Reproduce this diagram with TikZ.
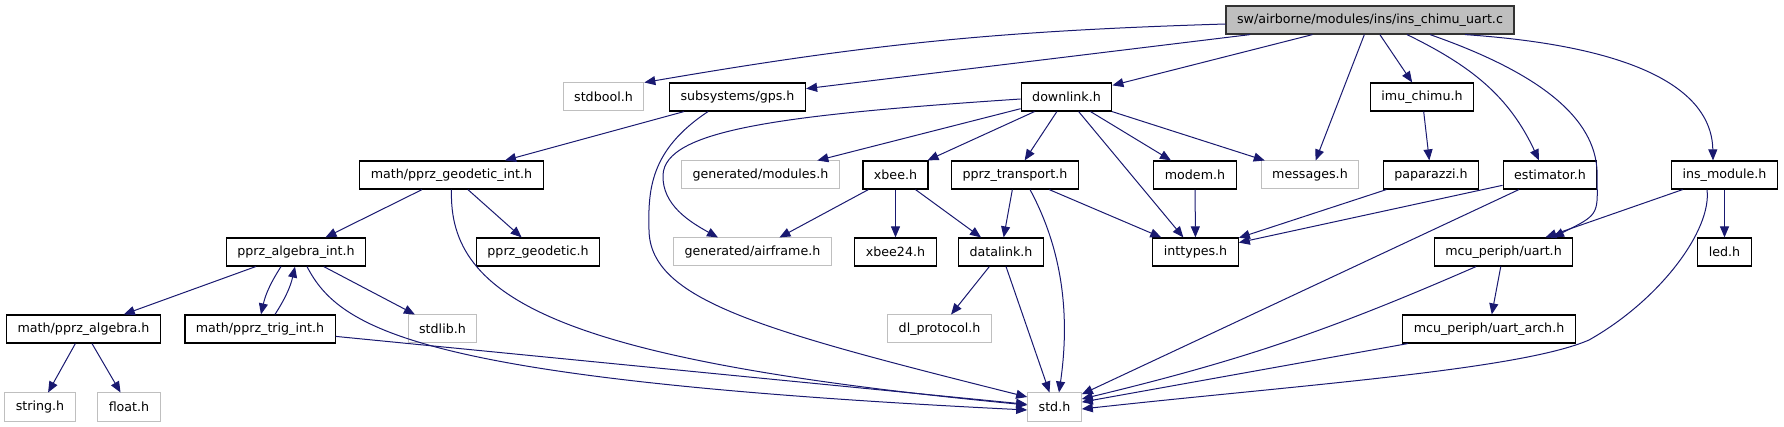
\documentclass[tikz,border=0pt]{standalone}
\usepackage{fontspec}
\setmainfont{DejaVu Sans}
\usetikzlibrary{arrows.meta}
\definecolor{edgeblue}{RGB}{25,25,112}
\definecolor{boxgray}{RGB}{191,191,191}
\begin{document}
\begin{tikzpicture}[x=0.5pt,y=-0.5pt,every node/.style={font=\fontsize{6.33}{7.6}\selectfont},
  hdr/.style={draw=black,line width=0.6pt,minimum height=14pt,inner xsep=5.5pt,inner ysep=0pt},
  sys/.style={hdr,draw=boxgray,line width=0.5pt},
  dep/.style={draw=edgeblue,line width=0.5pt,-{Triangle[length=5.5pt,width=4.5pt]}}]
\useasboundingbox (0,0) rectangle (1784,427);
% include graph of ins_chimu_uart.c
\node[hdr,fill=boxgray,draw=black!80] (root) at (1370,20) {sw/airborne/modules/ins/ins\_chimu\_uart.c};
\foreach \n/\x/\y/\t in {gps/737.5/97/{subsystems/gps.h},downlink/1066.5/97/{downlink.h},
  imuchimu/1422/97/{imu\_chimu.h},geodint/451.5/175/{math/pprz\_geodetic\_int.h},
  xbee/895.5/175/{xbee.h},transport/1015/175/{pprz\_transport.h},modem/1195/175/{modem.h},
  paparazzi/1431/175/{paparazzi.h},estimator/1550/175/{estimator.h},insmodule/1724.5/175/{ins\_module.h},
  algint/296/252/{pprz\_algebra\_int.h},geodetic/538/252/{pprz\_geodetic.h},xbeetwo/895.5/252/{xbee24.h},
  datalink/1001/252/{datalink.h},inttypes/1195.5/252/{inttypes.h},uart/1503.5/252/{mcu\_periph/uart.h},
  led/1724.5/252/{led.h},algebra/83.5/329/{math/pprz\_algebra.h},trigint/260/329/{math/pprz\_trig\_int.h},
  uartarch/1489/329/{mcu\_periph/uart\_arch.h}}
  \node[hdr] (\n) at (\x,\y) {\t};
% system / generated headers
\foreach \n/\x/\y/\t in {stdbool/603.5/97/{stdbool.h},genmodules/760.5/175/{generated/modules.h},
  messages/1310/175/{messages.h},genairframe/752.5/252/{generated/airframe.h},stdlib/442.5/329/{stdlib.h},
  dlprotocol/939.5/329/{dl\_protocol.h},strh/40/407/{string.h},floath/129/407/{float.h},std/1054.5/407/{std.h}}
  \node[sys] (\n) at (\x,\y) {\t};
\foreach \a/\b in {root/gps,root/downlink,root/messages,root/imuchimu,gps/geodint,downlink/genmodules,
  downlink/xbee,downlink/transport,downlink/inttypes,downlink/modem,downlink/messages,geodint/algint,
  geodint/geodetic,algint/algebra,algint/stdlib,algebra/strh,algebra/floath,xbee/genairframe,xbee/xbeetwo,
  xbee/datalink,transport/datalink,transport/inttypes,modem/inttypes,imuchimu/paparazzi,paparazzi/inttypes,
  estimator/inttypes,estimator/std,insmodule/uart,insmodule/led,uart/uartarch,uartarch/std,
  datalink/dlprotocol,datalink/std,trigint/std}
  \draw[dep] (\a) -- (\b);
% curved edges
\draw[dep] ([yshift=-2pt]root.west) to[bend right=4] (stdbool.north east);
\draw[dep] ([xshift=18.5pt]root.south) to[out=-26,in=115] ([xshift=-5.5pt]estimator.north);
\draw[dep] ([xshift=30pt]root.south) .. controls (1560,80) and (1600,130) .. (1597,180)
  .. controls (1598,215) .. ([xshift=24.75pt]uart.north);
\draw[dep] ([xshift=47.5pt]root.south) .. controls (1660,48) and (1712,100) .. ([xshift=-5.75pt]insmodule.north);
\draw[dep] ([xshift=-14.75pt]gps.south) .. controls (650,150) and (648,190) .. (649,230)
  .. controls (650,300) and (760,330) .. ([yshift=5pt]std.west);
\draw[dep] (geodint.south) .. controls (448,300) and (560,360) .. ([yshift=1pt]std.west);
\draw[dep] ([xshift=5.5pt]algint.south) .. controls (340,330) and (420,380) .. ([yshift=-1.5pt]std.west);
\draw[dep] ([xshift=-7.5pt]algint.south) to[bend right=10] ([xshift=0.5pt]trigint.north);
\draw[dep] ([xshift=7.5pt]trigint.north) to[bend right=10] ([xshift=-0.5pt]algint.south);
\draw[dep] ([xshift=7.5pt]transport.south) .. controls (1068,260) and (1068,330) .. ([xshift=2.25pt]std.north);
\draw[dep] ([yshift=-1pt]downlink.west) .. controls (780,115) and (665,130) .. (663,175)
  .. controls (662,205) and (690,222) .. ([xshift=-17.25pt]genairframe.north);
\draw[dep] ([xshift=-8.75pt]insmodule.south) .. controls (1712,230) and (1660,300) .. (1589,340)
  .. controls (1520,370) and (1300,385) .. ([yshift=-1pt]std.east);
\draw[dep] ([xshift=-13.75pt]uart.south) to[bend left=5] ([yshift=4pt]std.east);
\end{tikzpicture}
\end{document}
